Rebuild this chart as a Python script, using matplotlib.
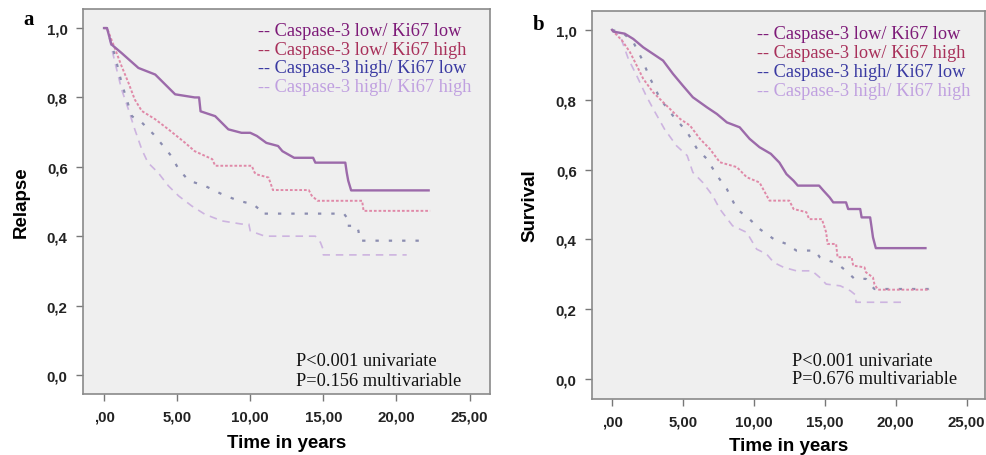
import matplotlib
matplotlib.use("Agg")
import matplotlib.pyplot as plt

# ---- panel a : relapse (corner points) ----
a_t1 = [0, 0.2, 0.5, 1.2, 2.35, 3.5, 4.86, 6.2, 6.5, 6.6, 7.6, 8.5, 9.4, 10.0, 10.45, 11.1, 11.9, 12.2, 13.0, 14.3, 14.45, 16.5, 16.6, 16.7, 16.9, 22.2]
a_s1 = [1.0, 1.0, 0.953, 0.928, 0.885, 0.866, 0.809, 0.80, 0.80, 0.76, 0.746, 0.708, 0.698, 0.698, 0.689, 0.669, 0.66, 0.645, 0.626, 0.626, 0.612, 0.612, 0.583, 0.56, 0.532, 0.532]
a_t2 = [0, 0.2, 0.75, 1.2, 1.67, 2.1, 2.58, 3.5, 4.4, 5.55, 6.2, 7.4, 7.6, 10.1, 10.3, 10.45, 11.25, 11.55, 14.0, 14.2, 14.6, 17.65, 17.75, 22.3]
a_s2 = [1.0, 1.0, 0.94, 0.89, 0.842, 0.794, 0.761, 0.737, 0.708, 0.669, 0.645, 0.622, 0.603, 0.603, 0.583, 0.578, 0.569, 0.533, 0.533, 0.517, 0.502, 0.502, 0.473, 0.473]
a_t3 = [0, 0.2, 0.75, 1.2, 1.55, 1.9, 2.6, 3.38, 3.95, 4.6, 5.1, 5.8, 6.9, 8.06, 9.2, 10.2, 10.6, 10.7, 16.4, 16.6, 16.6, 17.3, 17.4, 17.5, 22.1]
a_s3 = [1.0, 1.0, 0.919, 0.842, 0.794, 0.746, 0.727, 0.694, 0.665, 0.631, 0.593, 0.56, 0.545, 0.521, 0.502, 0.492, 0.478, 0.465, 0.465, 0.454, 0.43, 0.43, 0.415, 0.387, 0.387]
a_t4 = [0, 0.2, 0.75, 1.2, 1.67, 2.1, 2.58, 3.0, 3.7, 4.4, 5.1, 6.0, 6.9, 8.06, 9.4, 9.9, 10.0, 11.0, 14.45, 14.8, 15.0, 15.0, 20.7]
a_s4 = [1.0, 1.0, 0.90, 0.823, 0.765, 0.708, 0.65, 0.612, 0.583, 0.545, 0.516, 0.487, 0.463, 0.444, 0.435, 0.435, 0.415, 0.40, 0.40, 0.382, 0.36, 0.346, 0.346]

# ---- panel b : survival ----
b_t1 = [0, 0.1, 0.9, 1.5, 2.2, 2.9, 3.6, 4.3, 5.0, 5.7, 6.7, 7.4, 8.1, 9.0, 9.7, 10.4, 11.2, 11.8, 12.3, 12.8, 13.1, 14.6, 14.9, 15.35, 15.6, 16.5, 16.65, 17.5, 17.6, 18.2, 18.3, 18.4, 18.6, 22.1]
b_s1 = [1.0, 0.995, 0.989, 0.974, 0.95, 0.931, 0.912, 0.874, 0.84, 0.807, 0.778, 0.759, 0.735, 0.721, 0.688, 0.664, 0.645, 0.62, 0.587, 0.568, 0.554, 0.554, 0.54, 0.52, 0.506, 0.506, 0.487, 0.487, 0.463, 0.463, 0.435, 0.406, 0.375, 0.375]
b_t2 = [0, 0.1, 0.7, 1.27, 1.74, 2.2, 2.9, 3.85, 4.8, 5.5, 6.2, 6.9, 7.6, 8.8, 9.5, 10.4, 11.1, 12.5, 12.8, 13.7, 13.9, 14.8, 15.1, 15.2, 15.8, 15.9, 16.9, 17.0, 17.8, 17.9, 18.4, 18.5, 18.75, 22.4]
b_s2 = [1.0, 0.995, 0.97, 0.936, 0.898, 0.86, 0.821, 0.783, 0.745, 0.726, 0.688, 0.659, 0.621, 0.607, 0.578, 0.563, 0.511, 0.511, 0.487, 0.478, 0.458, 0.458, 0.42, 0.387, 0.387, 0.349, 0.349, 0.325, 0.32, 0.306, 0.291, 0.272, 0.256, 0.256]
b_t3 = [0, 0.8, 1.5, 2.1, 2.7, 3.4, 4.3, 5.3, 6.0, 6.7, 7.4, 8.1, 8.8, 9.7, 10.4, 11.4, 12.3, 13.0, 14.3, 14.65, 15.9, 16.5, 17.1, 17.9, 18.3, 18.5, 22.4]
b_s3 = [1.0, 0.99, 0.965, 0.917, 0.86, 0.802, 0.754, 0.707, 0.659, 0.63, 0.583, 0.544, 0.487, 0.458, 0.43, 0.401, 0.387, 0.368, 0.368, 0.349, 0.33, 0.31, 0.287, 0.287, 0.267, 0.258, 0.258]
b_t4 = [0, 0.6, 1.15, 1.74, 2.4, 2.9, 3.7, 4.55, 5.3, 5.7, 6.4, 7.1, 7.6, 8.5, 9.5, 10.2, 10.9, 11.4, 12.1, 13.0, 14.1, 14.65, 15.1, 16.1, 16.8, 17.2, 17.2, 20.5]
b_s4 = [1.0, 0.98, 0.917, 0.869, 0.812, 0.774, 0.716, 0.668, 0.64, 0.592, 0.563, 0.525, 0.487, 0.439, 0.42, 0.372, 0.358, 0.334, 0.32, 0.31, 0.31, 0.291, 0.272, 0.267, 0.253, 0.24, 0.22, 0.22]

groups = ["Caspase-3 low/ Ki67 low", "Caspase-3 low/ Ki67 high",
          "Caspase-3 high/ Ki67 low", "Caspase-3 high/ Ki67 high"]
legend_colors = ["#7d1a78", "#a8305a", "#3a3aa2", "#c0a0e0"]
line_colors = ["#9c6aaa", "#e089a8", "#8b8db0", "#cdb4e0"]
line_styles = ["-", (0, (1.4, 1.0)), (0, (1.5, 4.5)), (0, (4.5, 3.5))]
line_widths = [1.7, 1.4, 1.6, 1.2]

xticks = [0, 5, 10, 15, 20, 25]
xtick_labels = [",00", "5,00", "10,00", "15,00", "20,00", "25,00"]
yticks = [0, 0.2, 0.4, 0.6, 0.8, 1.0]
ytick_labels = ["0,0", "0,2", "0,4", "0,6", "0,8", "1,0"]

fig = plt.figure(figsize=(9.87, 4.56), dpi=100)
fig.patch.set_facecolor("white")

def panel(rect, curves, ylabel, pvals, xlim, ylim, ylab_x, xlab_y, leg_x, leg_y, p_x, p_y):
    ax = fig.add_axes(rect)
    ax.set_facecolor("#efefef")
    for i, (t, s) in enumerate(curves):
        ax.plot(t, s, color=line_colors[i], linestyle=line_styles[i],
                linewidth=line_widths[i], zorder=3 - i * 0.1)
    ax.set_xlim(*xlim)
    ax.set_ylim(*ylim)
    ax.set_xticks(xticks)
    ax.set_xticklabels(xtick_labels)
    ax.set_yticks(yticks)
    ax.set_yticklabels(ytick_labels)
    ax.tick_params(direction="out", length=5, width=1, color="#777777",
                   labelsize=10.8, labelcolor="#222222", pad=6)
    for lab in ax.get_xticklabels() + ax.get_yticklabels():
        lab.set_family("Liberation Sans")
        lab.set_fontweight("bold")
    for sp in ax.spines.values():
        sp.set_color("#8a8a8a")
        sp.set_linewidth(1.2)
    ax.set_ylabel(ylabel, family="Liberation Sans", fontweight="bold", fontsize=13.5)
    ax.yaxis.set_label_coords(ylab_x, 0.5)
    ax.set_xlabel("Time in years", family="Liberation Sans", fontweight="bold", fontsize=13.5)
    ax.xaxis.set_label_coords(0.5, xlab_y)
    for i, g in enumerate(groups):
        ax.text(leg_x, leg_y - i * 0.049, "-- " + g, transform=ax.transAxes,
                family="Liberation Serif", fontsize=13.2, color=legend_colors[i], va="center")
    ax.text(p_x, p_y[0], pvals[0], transform=ax.transAxes,
            family="Liberation Serif", fontsize=13.2, color="#111111", va="center")
    ax.text(p_x, p_y[1], pvals[1], transform=ax.transAxes,
            family="Liberation Serif", fontsize=13.2, color="#111111", va="center")
    return ax

panel([0.0841, 0.1338, 0.4124, 0.8443],
      [(a_t1, a_s1), (a_t2, a_s2), (a_t3, a_s3), (a_t4, a_s4)],
      "Relapse", ["P<0.001 univariate", "P=0.156 multivariable"],
      (-1.44, 26.4), (-0.055, 1.055), -0.13, -0.105,
      0.43, 0.945, 0.523, (0.086, 0.036))
panel([0.5998, 0.1228, 0.3982, 0.8509],
      [(b_t1, b_s1), (b_t2, b_s2), (b_t3, b_s3), (b_t4, b_s4)],
      "Survival", ["P<0.001 univariate", "P=0.676 multivariable"],
      (-1.41, 26.3), (-0.057, 1.054), -0.135, -0.098,
      0.42, 0.943, 0.509, (0.098, 0.052))

fig.text(23 / 987, 1 - 20 / 456, "a", family="Liberation Serif", fontweight="bold",
         fontsize=15, ha="left", va="center")
fig.text(533 / 987, 1 - 25 / 456, "b", family="Liberation Serif", fontweight="bold",
         fontsize=15, ha="left", va="center")

fig.savefig("out.png", dpi=100)
